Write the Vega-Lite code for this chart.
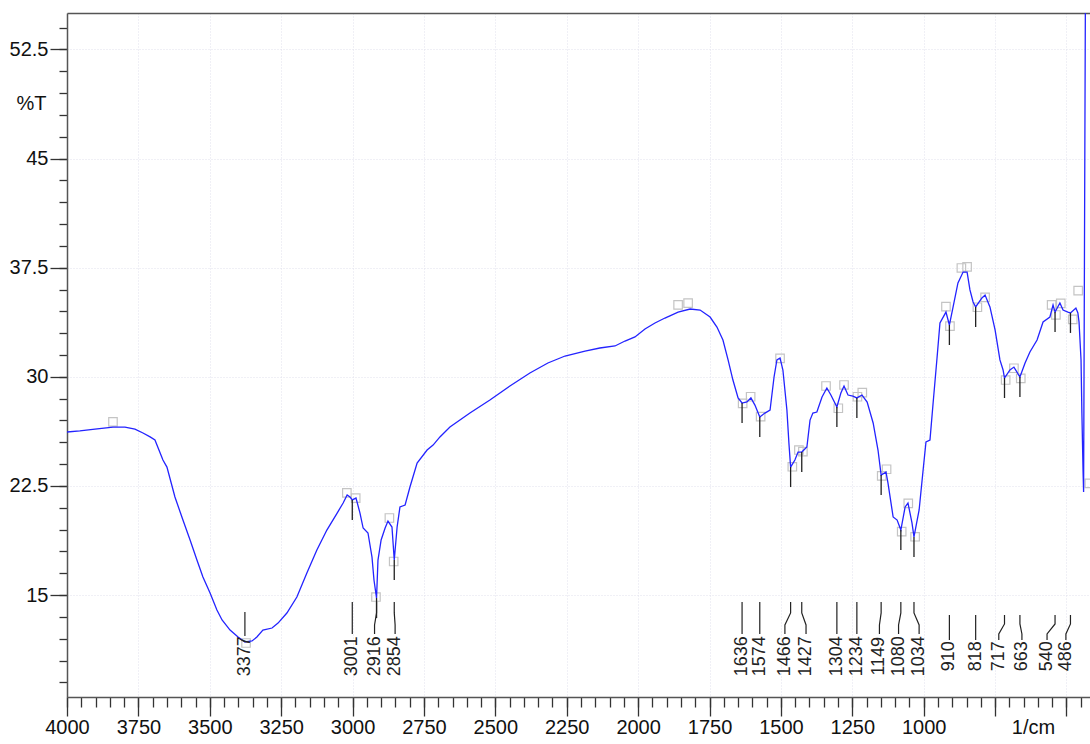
{
  "$schema": "https://vega.github.io/schema/vega-lite/v6.json",
  "width": 1023,
  "height": 684,
  "autosize": {"type": "none"},
  "padding": {"left": 67, "top": 13, "right": 0, "bottom": 47},
  "background": "white",
  "config": {
    "view": {"stroke": null},
    "axis": {
      "labelFont": "Liberation Sans Narrow, Arial Narrow, Liberation Sans",
      "labelFontSize": 20,
      "labelColor": "#111111",
      "titleFont": "Liberation Sans Narrow, Arial Narrow, Liberation Sans",
      "titleFontSize": 20,
      "titleFontWeight": "normal",
      "titleColor": "#111111",
      "tickColor": "#333333",
      "tickWidth": 1.3,
      "domainColor": "#555555",
      "domainWidth": 1.5,
      "gridColor": "#e0e0ec",
      "gridDash": [1, 2],
      "gridWidth": 1
    }
  },
  "datasets": {
    "spectrum": [
      {"wn": 4000, "t": 26.21}, {"wn": 3955, "t": 26.28}, {"wn": 3902, "t": 26.41}, {"wn": 3839, "t": 26.55},
      {"wn": 3797, "t": 26.55}, {"wn": 3762, "t": 26.41}, {"wn": 3734, "t": 26.14}, {"wn": 3709, "t": 25.87},
      {"wn": 3692, "t": 25.66}, {"wn": 3664, "t": 24.28}, {"wn": 3650, "t": 23.8}, {"wn": 3622, "t": 21.74},
      {"wn": 3594, "t": 20.16}, {"wn": 3569, "t": 18.79}, {"wn": 3545, "t": 17.41}, {"wn": 3524, "t": 16.25},
      {"wn": 3499, "t": 15.15}, {"wn": 3475, "t": 13.98}, {"wn": 3457, "t": 13.29}, {"wn": 3429, "t": 12.6},
      {"wn": 3401, "t": 12.12}, {"wn": 3377, "t": 11.78}, {"wn": 3352, "t": 11.85}, {"wn": 3335, "t": 12.12},
      {"wn": 3314, "t": 12.6}, {"wn": 3282, "t": 12.74}, {"wn": 3261, "t": 13.08}, {"wn": 3230, "t": 13.77},
      {"wn": 3195, "t": 14.87}, {"wn": 3160, "t": 16.52}, {"wn": 3125, "t": 18.1}, {"wn": 3090, "t": 19.47},
      {"wn": 3054, "t": 20.64}, {"wn": 3033, "t": 21.33}, {"wn": 3019, "t": 21.88}, {"wn": 3009, "t": 21.74},
      {"wn": 3001, "t": 21.54}, {"wn": 2988, "t": 21.67}, {"wn": 2974, "t": 20.64}, {"wn": 2963, "t": 19.61},
      {"wn": 2946, "t": 19.27}, {"wn": 2932, "t": 17.62}, {"wn": 2925, "t": 16.04}, {"wn": 2916, "t": 14.8},
      {"wn": 2911, "t": 17.41}, {"wn": 2900, "t": 18.79}, {"wn": 2886, "t": 19.61}, {"wn": 2876, "t": 20.09},
      {"wn": 2862, "t": 19.68}, {"wn": 2854, "t": 17.41}, {"wn": 2844, "t": 19.68}, {"wn": 2834, "t": 21.06},
      {"wn": 2816, "t": 21.19}, {"wn": 2799, "t": 22.43}, {"wn": 2774, "t": 24.08}, {"wn": 2739, "t": 24.97},
      {"wn": 2718, "t": 25.31}, {"wn": 2694, "t": 25.87}, {"wn": 2659, "t": 26.55}, {"wn": 2589, "t": 27.51},
      {"wn": 2519, "t": 28.41}, {"wn": 2449, "t": 29.37}, {"wn": 2379, "t": 30.26}, {"wn": 2316, "t": 30.95},
      {"wn": 2256, "t": 31.43}, {"wn": 2186, "t": 31.77}, {"wn": 2134, "t": 31.98}, {"wn": 2081, "t": 32.12},
      {"wn": 2046, "t": 32.46}, {"wn": 2011, "t": 32.74}, {"wn": 1976, "t": 33.29}, {"wn": 1941, "t": 33.7},
      {"wn": 1906, "t": 34.04}, {"wn": 1860, "t": 34.45}, {"wn": 1818, "t": 34.66}, {"wn": 1783, "t": 34.59},
      {"wn": 1748, "t": 34.11}, {"wn": 1724, "t": 33.42}, {"wn": 1703, "t": 32.53}, {"wn": 1685, "t": 31.16},
      {"wn": 1668, "t": 29.78}, {"wn": 1650, "t": 28.55}, {"wn": 1636, "t": 28.2}, {"wn": 1619, "t": 28.27},
      {"wn": 1605, "t": 28.55}, {"wn": 1591, "t": 28.06}, {"wn": 1574, "t": 27.24}, {"wn": 1556, "t": 27.51},
      {"wn": 1538, "t": 27.72}, {"wn": 1524, "t": 29.99}, {"wn": 1514, "t": 31.16}, {"wn": 1503, "t": 31.29},
      {"wn": 1493, "t": 30.47}, {"wn": 1479, "t": 27.72}, {"wn": 1472, "t": 25.45}, {"wn": 1466, "t": 23.8},
      {"wn": 1451, "t": 24.28}, {"wn": 1440, "t": 24.83}, {"wn": 1427, "t": 24.83}, {"wn": 1409, "t": 25.18},
      {"wn": 1398, "t": 27.03}, {"wn": 1388, "t": 27.51}, {"wn": 1374, "t": 27.58}, {"wn": 1356, "t": 28.61},
      {"wn": 1339, "t": 29.23}, {"wn": 1325, "t": 28.75}, {"wn": 1311, "t": 28.2}, {"wn": 1304, "t": 27.93},
      {"wn": 1290, "t": 28.89}, {"wn": 1279, "t": 29.37}, {"wn": 1265, "t": 28.75}, {"wn": 1248, "t": 28.68},
      {"wn": 1234, "t": 28.55}, {"wn": 1216, "t": 28.75}, {"wn": 1198, "t": 28.27}, {"wn": 1177, "t": 26.83},
      {"wn": 1160, "t": 24.97}, {"wn": 1149, "t": 23.25}, {"wn": 1132, "t": 23.46}, {"wn": 1125, "t": 22.7},
      {"wn": 1107, "t": 20.37}, {"wn": 1093, "t": 20.16}, {"wn": 1080, "t": 19.47}, {"wn": 1065, "t": 21.06},
      {"wn": 1055, "t": 21.33}, {"wn": 1041, "t": 19.96}, {"wn": 1034, "t": 19.0}, {"wn": 1016, "t": 20.85},
      {"wn": 1002, "t": 23.6}, {"wn": 992, "t": 25.52}, {"wn": 978, "t": 25.66}, {"wn": 967, "t": 28.2},
      {"wn": 953, "t": 31.36}, {"wn": 943, "t": 33.7}, {"wn": 922, "t": 34.45}, {"wn": 910, "t": 33.56},
      {"wn": 897, "t": 34.8}, {"wn": 880, "t": 36.45}, {"wn": 862, "t": 37.2}, {"wn": 848, "t": 37.2},
      {"wn": 838, "t": 35.97}, {"wn": 827, "t": 35.14}, {"wn": 818, "t": 34.8}, {"wn": 796, "t": 35.42},
      {"wn": 785, "t": 35.62}, {"wn": 768, "t": 34.8}, {"wn": 750, "t": 33.22}, {"wn": 733, "t": 31.16},
      {"wn": 722, "t": 30.47}, {"wn": 717, "t": 29.92}, {"wn": 698, "t": 30.47}, {"wn": 684, "t": 30.67},
      {"wn": 663, "t": 29.99}, {"wn": 645, "t": 30.95}, {"wn": 628, "t": 31.71}, {"wn": 603, "t": 32.53},
      {"wn": 582, "t": 33.77}, {"wn": 558, "t": 34.11}, {"wn": 547, "t": 34.94}, {"wn": 540, "t": 34.45},
      {"wn": 523, "t": 35.07}, {"wn": 512, "t": 34.59}, {"wn": 495, "t": 34.45}, {"wn": 486, "t": 34.39},
      {"wn": 467, "t": 34.73}, {"wn": 460, "t": 34.39}, {"wn": 456, "t": 33.77}, {"wn": 449, "t": 31.16},
      {"wn": 446, "t": 27.51}, {"wn": 442, "t": 23.6}, {"wn": 440, "t": 22.09}, {"wn": 433, "t": 60}
    ],
    "markers": [
      {"wn": 3839, "t": 26.9}, {"wn": 3373, "t": 11.71}, {"wn": 3020, "t": 22.02}, {"wn": 2989, "t": 21.67},
      {"wn": 2918, "t": 14.87}, {"wn": 2871, "t": 20.3}, {"wn": 2856, "t": 17.31}, {"wn": 1860, "t": 34.94},
      {"wn": 1825, "t": 35.07}, {"wn": 1634, "t": 28.18}, {"wn": 1606, "t": 28.63}, {"wn": 1571, "t": 27.26},
      {"wn": 1503, "t": 31.27}, {"wn": 1460, "t": 23.82}, {"wn": 1437, "t": 24.97}, {"wn": 1423, "t": 24.86},
      {"wn": 1342, "t": 29.37}, {"wn": 1299, "t": 27.84}, {"wn": 1279, "t": 29.44}, {"wn": 1232, "t": 28.63},
      {"wn": 1215, "t": 28.91}, {"wn": 1147, "t": 23.19}, {"wn": 1130, "t": 23.65}, {"wn": 1077, "t": 19.36},
      {"wn": 1054, "t": 21.31}, {"wn": 1030, "t": 19.01}, {"wn": 922, "t": 34.82}, {"wn": 908, "t": 33.49},
      {"wn": 868, "t": 37.48}, {"wn": 848, "t": 37.55}, {"wn": 812, "t": 34.78}, {"wn": 785, "t": 35.46},
      {"wn": 713, "t": 29.78}, {"wn": 684, "t": 30.59}, {"wn": 660, "t": 29.9}, {"wn": 552, "t": 34.94},
      {"wn": 537, "t": 34.25}, {"wn": 520, "t": 35.05}, {"wn": 478, "t": 33.95}, {"wn": 459, "t": 35.92},
      {"wn": 420, "t": 22.68}
    ],
    "peaks": [
      {"label": "3377", "wn": 3377, "t": 11.78, "labelWn": 3377},
      {"label": "3001", "wn": 3001, "t": 21.54, "labelWn": 3001},
      {"label": "2916", "wn": 2916, "t": 14.8, "labelWn": 2923},
      {"label": "2854", "wn": 2854, "t": 17.41, "labelWn": 2851},
      {"label": "1636", "wn": 1636, "t": 28.2, "labelWn": 1636},
      {"label": "1574", "wn": 1574, "t": 27.24, "labelWn": 1574},
      {"label": "1466", "wn": 1466, "t": 23.8, "labelWn": 1486},
      {"label": "1427", "wn": 1427, "t": 24.83, "labelWn": 1412},
      {"label": "1304", "wn": 1304, "t": 27.93, "labelWn": 1304},
      {"label": "1234", "wn": 1234, "t": 28.55, "labelWn": 1234},
      {"label": "1149", "wn": 1149, "t": 23.25, "labelWn": 1155},
      {"label": "1080", "wn": 1080, "t": 19.47, "labelWn": 1088},
      {"label": "1034", "wn": 1034, "t": 19.0, "labelWn": 1016},
      {"label": "910", "wn": 910, "t": 33.56, "labelWn": 910},
      {"label": "818", "wn": 818, "t": 34.8, "labelWn": 818},
      {"label": "717", "wn": 717, "t": 29.92, "labelWn": 737},
      {"label": "663", "wn": 663, "t": 29.99, "labelWn": 656},
      {"label": "540", "wn": 540, "t": 34.45, "labelWn": 568},
      {"label": "486", "wn": 486, "t": 34.39, "labelWn": 502}
    ],
    "leaders": [
      {"label": "3377", "k": 0, "wn": 3377, "t": 13.84}, {"label": "3377", "k": 1, "wn": 3377, "t": 12.2},
      {"label": "3001", "k": 0, "wn": 3001, "t": 14.53}, {"label": "3001", "k": 1, "wn": 3001, "t": 13.78},
      {"label": "3001", "k": 2, "wn": 3001, "t": 12.95}, {"label": "3001", "k": 3, "wn": 3001, "t": 12.33},
      {"label": "2916", "k": 0, "wn": 2916, "t": 14.53}, {"label": "2916", "k": 1, "wn": 2916, "t": 13.78},
      {"label": "2916", "k": 2, "wn": 2923, "t": 12.95}, {"label": "2916", "k": 3, "wn": 2923, "t": 12.33},
      {"label": "2854", "k": 0, "wn": 2854, "t": 14.53}, {"label": "2854", "k": 1, "wn": 2854, "t": 13.78},
      {"label": "2854", "k": 2, "wn": 2851, "t": 12.95}, {"label": "2854", "k": 3, "wn": 2851, "t": 12.33},
      {"label": "1636", "k": 0, "wn": 1636, "t": 14.53}, {"label": "1636", "k": 1, "wn": 1636, "t": 13.78},
      {"label": "1636", "k": 2, "wn": 1636, "t": 12.95}, {"label": "1636", "k": 3, "wn": 1636, "t": 12.33},
      {"label": "1574", "k": 0, "wn": 1574, "t": 14.53}, {"label": "1574", "k": 1, "wn": 1574, "t": 13.78},
      {"label": "1574", "k": 2, "wn": 1574, "t": 12.95}, {"label": "1574", "k": 3, "wn": 1574, "t": 12.33},
      {"label": "1466", "k": 0, "wn": 1466, "t": 14.53}, {"label": "1466", "k": 1, "wn": 1466, "t": 13.78},
      {"label": "1466", "k": 2, "wn": 1486, "t": 12.95}, {"label": "1466", "k": 3, "wn": 1486, "t": 12.33},
      {"label": "1427", "k": 0, "wn": 1427, "t": 14.53}, {"label": "1427", "k": 1, "wn": 1427, "t": 13.78},
      {"label": "1427", "k": 2, "wn": 1412, "t": 12.95}, {"label": "1427", "k": 3, "wn": 1412, "t": 12.33},
      {"label": "1304", "k": 0, "wn": 1304, "t": 14.53}, {"label": "1304", "k": 1, "wn": 1304, "t": 13.78},
      {"label": "1304", "k": 2, "wn": 1304, "t": 12.95}, {"label": "1304", "k": 3, "wn": 1304, "t": 12.33},
      {"label": "1234", "k": 0, "wn": 1234, "t": 14.53}, {"label": "1234", "k": 1, "wn": 1234, "t": 13.78},
      {"label": "1234", "k": 2, "wn": 1234, "t": 12.95}, {"label": "1234", "k": 3, "wn": 1234, "t": 12.33},
      {"label": "1149", "k": 0, "wn": 1149, "t": 14.53}, {"label": "1149", "k": 1, "wn": 1149, "t": 13.78},
      {"label": "1149", "k": 2, "wn": 1155, "t": 12.95}, {"label": "1149", "k": 3, "wn": 1155, "t": 12.33},
      {"label": "1080", "k": 0, "wn": 1080, "t": 14.53}, {"label": "1080", "k": 1, "wn": 1080, "t": 13.78},
      {"label": "1080", "k": 2, "wn": 1088, "t": 12.95}, {"label": "1080", "k": 3, "wn": 1088, "t": 12.33},
      {"label": "1034", "k": 0, "wn": 1034, "t": 14.53}, {"label": "1034", "k": 1, "wn": 1034, "t": 13.78},
      {"label": "1034", "k": 2, "wn": 1016, "t": 12.95}, {"label": "1034", "k": 3, "wn": 1016, "t": 12.33},
      {"label": "910", "k": 0, "wn": 910, "t": 13.63}, {"label": "910", "k": 1, "wn": 910, "t": 13.02},
      {"label": "910", "k": 2, "wn": 910, "t": 12.33}, {"label": "910", "k": 3, "wn": 910, "t": 11.92},
      {"label": "818", "k": 0, "wn": 818, "t": 13.63}, {"label": "818", "k": 1, "wn": 818, "t": 13.02},
      {"label": "818", "k": 2, "wn": 818, "t": 12.33}, {"label": "818", "k": 3, "wn": 818, "t": 11.92},
      {"label": "717", "k": 0, "wn": 717, "t": 13.63}, {"label": "717", "k": 1, "wn": 717, "t": 13.02},
      {"label": "717", "k": 2, "wn": 737, "t": 12.33}, {"label": "717", "k": 3, "wn": 737, "t": 11.92},
      {"label": "663", "k": 0, "wn": 663, "t": 13.63}, {"label": "663", "k": 1, "wn": 663, "t": 13.02},
      {"label": "663", "k": 2, "wn": 656, "t": 12.33}, {"label": "663", "k": 3, "wn": 656, "t": 11.92},
      {"label": "540", "k": 0, "wn": 540, "t": 13.63}, {"label": "540", "k": 1, "wn": 540, "t": 13.02},
      {"label": "540", "k": 2, "wn": 568, "t": 12.33}, {"label": "540", "k": 3, "wn": 568, "t": 11.92},
      {"label": "486", "k": 0, "wn": 486, "t": 13.63}, {"label": "486", "k": 1, "wn": 486, "t": 13.02},
      {"label": "486", "k": 2, "wn": 502, "t": 12.33}, {"label": "486", "k": 3, "wn": 502, "t": 11.92}
    ]
  },
  "layer": [
    {
      "data": {"name": "markers"},
      "mark": {"type": "point", "shape": "square", "size": 72, "filled": false, "stroke": "#c4c4c4", "strokeWidth": 1.2, "opacity": 1},
      "encoding": {
        "x": {
          "field": "wn", "type": "quantitative",
          "scale": {"domain": [4000, 417.6], "nice": false, "zero": false},
          "axis": {
            "orient": "bottom",
            "values": [4000, 3950, 3900, 3850, 3800, 3750, 3700, 3650, 3600, 3550, 3500, 3450, 3400, 3350, 3300, 3250, 3200, 3150, 3100, 3050, 3000, 2950, 2900, 2850, 2800, 2750, 2700, 2650, 2600, 2550, 2500, 2450, 2400, 2350, 2300, 2250, 2200, 2150, 2100, 2050, 2000, 1950, 1900, 1850, 1800, 1750, 1700, 1650, 1600, 1550, 1500, 1450, 1400, 1350, 1300, 1250, 1200, 1150, 1100, 1050, 1000, 950, 900, 850, 800, 750, 700, 650, 600, 550, 500, 450],
            "tickSize": 10, "labels": false, "domain": false, "grid": false, "title": null
          }
        },
        "y": {
          "field": "t", "type": "quantitative",
          "scale": {"domain": [8, 55], "nice": false, "zero": false},
          "axis": {
            "orient": "left",
            "values": [9, 10.5, 12, 13.5, 15, 16.5, 18, 19.5, 21, 22.5, 24, 25.5, 27, 28.5, 30, 31.5, 33, 34.5, 36, 37.5, 39, 40.5, 42, 43.5, 45, 46.5, 48, 49.5, 51, 52.5, 54],
            "tickSize": 8, "labels": false, "domain": false, "grid": false, "title": null
          }
        }
      }
    },
    {
      "data": {"name": "spectrum"},
      "mark": {"type": "line", "color": "#2323ff", "strokeWidth": 1.3, "clip": true},
      "encoding": {
        "x": {
          "field": "wn", "type": "quantitative",
          "scale": {"domain": [4000, 417.6], "nice": false, "zero": false},
          "axis": {
            "orient": "bottom",
            "values": [4000, 3750, 3500, 3250, 3000, 2750, 2500, 2250, 2000, 1750, 1500, 1250, 1000, 750, 500],
            "format": "d",
            "labelExpr": "datum.value >= 1000 ? datum.label : ''",
            "tickSize": 19, "labelPadding": 1, "labelFlush": false, "labelOverlap": false, "labelBound": false,
            "domain": true, "grid": true,
            "title": "1/cm", "titleX": 966, "titleY": 20, "titleAlign": "center", "titleBaseline": "top", "titleAnchor": null
          }
        },
        "y": {
          "field": "t", "type": "quantitative",
          "scale": {"domain": [8, 55], "nice": false, "zero": false},
          "axis": {
            "orient": "left",
            "values": [15, 22.5, 30, 37.5, 45, 52.5],
            "format": ".1~f",
            "tickSize": 17, "labelPadding": 2, "labelOverlap": false, "labelBound": false,
            "domain": true, "grid": true,
            "title": "%T", "titleAngle": 0, "titleAlign": "right", "titleBaseline": "middle", "titleX": -21, "titleY": 90, "titleAnchor": null
          }
        }
      }
    },
    {
      "data": {"name": "peaks"},
      "transform": [{"filter": "datum.label != '3377'"}],
      "mark": {"type": "rule", "color": "#222222", "strokeWidth": 1.3, "y2Offset": 20},
      "encoding": {
        "x": {
          "field": "wn", "type": "quantitative",
          "scale": {"domain": [4000, 417.6], "nice": false, "zero": false},
          "axis": {"orient": "top", "domain": true, "ticks": false, "labels": false, "grid": false, "title": null}
        },
        "y": {"field": "t", "type": "quantitative", "scale": {"domain": [8, 55], "nice": false, "zero": false}, "axis": null},
        "y2": {"field": "t"}
      }
    },
    {
      "data": {"name": "leaders"},
      "mark": {"type": "line", "color": "#222222", "strokeWidth": 1.2},
      "encoding": {
        "x": {"field": "wn", "type": "quantitative", "scale": {"domain": [4000, 417.6], "nice": false, "zero": false}, "axis": null},
        "y": {"field": "t", "type": "quantitative", "scale": {"domain": [8, 55], "nice": false, "zero": false}, "axis": null},
        "detail": {"field": "label", "type": "nominal"},
        "order": {"field": "k", "type": "quantitative"}
      }
    },
    {
      "data": {"name": "peaks"},
      "mark": {"type": "text", "angle": 270, "align": "center", "baseline": "middle", "font": "Liberation Sans", "fontSize": 18, "color": "#222222"},
      "encoding": {
        "x": {"field": "labelWn", "type": "quantitative", "scale": {"domain": [4000, 417.6], "nice": false, "zero": false}, "axis": null},
        "y": {"datum": 10.8, "type": "quantitative", "scale": {"domain": [8, 55], "nice": false, "zero": false}, "axis": null},
        "text": {"field": "label", "type": "nominal"}
      }
    }
  ],
  "resolve": {"axis": {"x": "independent", "y": "independent"}}
}
